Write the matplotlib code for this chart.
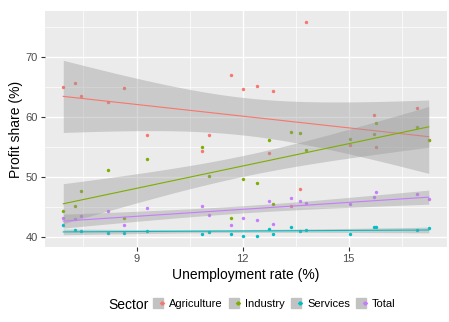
import numpy as np
import matplotlib.pyplot as plt
from matplotlib.lines import Line2D
from matplotlib.legend_handler import HandlerTuple

plt.rcParams['font.family'] = ['Liberation Sans', 'DejaVu Sans']

# unemployment rate per observation and profit share by sector
unemployment = [6.93, 7.25, 7.42, 8.19, 8.64, 9.29, 10.85, 11.05, 11.67, 12.00, 12.40,
                12.74, 12.87, 13.38, 13.62, 13.80, 15.03, 15.70, 15.77, 16.92, 17.26]
agriculture = [65.0, 65.7, 63.5, 62.5, 64.9, 57.0, 54.4, 57.1, 67.0, 64.7, 65.2,
               54.1, 64.3, 45.3, 48.0, 75.9, 55.4, 60.4, 55.1, 61.6, 56.3]
industry = [44.4, 45.3, 47.7, 51.2, 43.2, 53.0, 55.0, 50.3, 43.2, 49.8, 49.0,
            56.2, 45.5, 57.6, 57.4, 54.6, 56.4, 57.2, 59.1, 58.4, 56.2]
services = [42.0, 41.3, 41.1, 40.8, 40.7, 41.0, 40.6, 40.9, 40.6, 40.3, 40.2,
            41.4, 40.5, 41.8, 41.1, 41.3, 40.6, 41.8, 41.8, 41.3, 41.6]
total = [43.3, 43.1, 43.5, 44.4, 42.0, 44.9, 45.2, 43.8, 42.1, 43.2, 42.9,
         46.0, 42.3, 46.5, 46.0, 45.8, 45.6, 46.8, 47.6, 47.2, 46.4]

sectors = ['Agriculture', 'Industry', 'Services', 'Total']
series = [agriculture, industry, services, total]
colors = ['#F8766D', '#7CAE00', '#00BFC4', '#C77CFF']

T975 = 2.093  # t quantile, 19 degrees of freedom


def lm_band(x, y, grid):
    x = np.asarray(x)
    y = np.asarray(y)
    n = len(x)
    slope, icpt = np.polyfit(x, y, 1)
    resid = y - (slope * x + icpt)
    s = np.sqrt(np.sum(resid ** 2) / (n - 2))
    sxx = np.sum((x - x.mean()) ** 2)
    fit = slope * grid + icpt
    se = s * np.sqrt(1 / n + (grid - x.mean()) ** 2 / sxx)
    return fit, fit - T975 * se, fit + T975 * se


fig = plt.figure(figsize=(4.49, 3.22), dpi=100)
ax = fig.add_axes([45 / 449, 1 - 247 / 322, 402 / 449, 236 / 322])
ax.set_facecolor('#EBEBEB')

x = np.array(unemployment)
grid = np.linspace(x.min(), x.max(), 80)

for ys, c in zip(series, colors):
    ax.scatter(x, ys, s=6, color=c, linewidths=0, zorder=2)

lows, highs = [], []
for i, (ys, c) in enumerate(zip(series, colors)):
    fit, lo, hi = lm_band(x, ys, grid)
    ax.fill_between(grid, lo, hi, color='#999999', alpha=0.4, linewidth=0, zorder=3 + i)
    ax.plot(grid, fit, color=c, lw=0.8, zorder=3 + i)
    lows.append(lo.min())
    highs.append(hi.max())

# ggplot style 5% expansion
xmin, xmax = x.min(), x.max()
ymin = min(min(min(s) for s in series), min(lows))
ymax = max(max(max(s) for s in series), max(highs))
ax.set_xlim(xmin - 0.05 * (xmax - xmin), xmax + 0.05 * (xmax - xmin))
ax.set_ylim(ymin - 0.05 * (ymax - ymin), ymax + 0.05 * (ymax - ymin))

ax.set_xticks([9, 12, 15])
ax.set_xticks([7.5, 10.5, 13.5, 16.5], minor=True)
ax.set_yticks([40, 50, 60, 70])
ax.set_yticks([45, 55, 65, 75], minor=True)
ax.grid(which='major', color='white', lw=1.0, zorder=0)
ax.grid(which='minor', color='white', lw=0.5, zorder=0)
ax.set_axisbelow(True)
for sp in ax.spines.values():
    sp.set_visible(False)
ax.tick_params(which='major', length=3, width=0.8, color='#333333',
               labelsize=8, labelcolor='#4D4D4D', pad=2)
ax.tick_params(which='minor', length=0)

ax.set_xlabel('Unemployment rate (%)', fontsize=10, labelpad=3)
ax.set_ylabel('Profit share (%)', fontsize=10, labelpad=2)

# legend keys: grey square with the sector's line and point on top
handles = []
for c in colors:
    key = Line2D([], [], lw=0, marker='s', markersize=6.5, color='#C2C2C2')
    mark = Line2D([], [], color=c, lw=0.8, marker='o', markersize=2)
    handles.append((key, mark))
fig.legend(handles, sectors, handler_map={tuple: HandlerTuple(ndivide=None)},
           loc='center left', bbox_to_anchor=(156 / 449, 1 - 304 / 322), ncol=4,
           frameon=False, fontsize=8, handlelength=0.7, handleheight=0.8,
           handletextpad=0.5, columnspacing=0.8, borderpad=0, borderaxespad=0)
fig.text(108 / 449, 1 - 305 / 322, 'Sector', fontsize=10, ha='left', va='center')

fig.savefig('out.png', dpi=100, facecolor='white')
